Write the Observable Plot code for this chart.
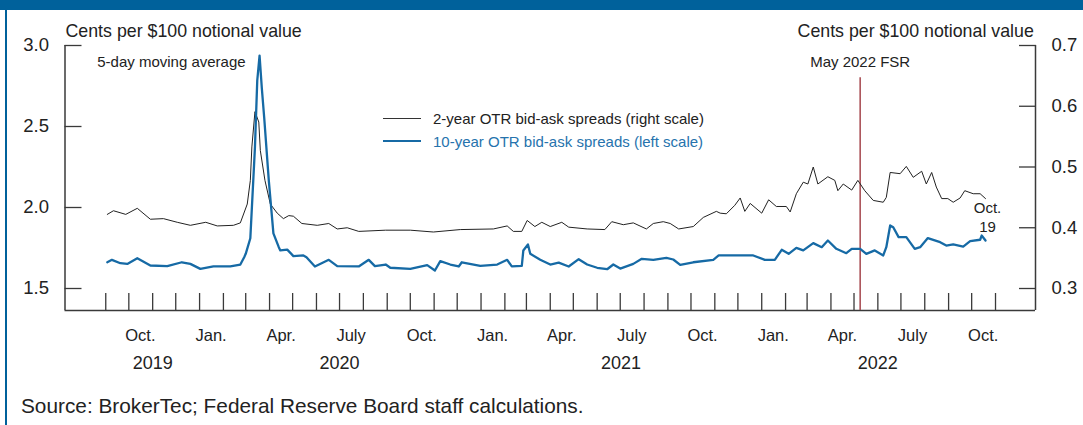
<!DOCTYPE html>
<html><head><meta charset="utf-8">
<script src="https://cdn.jsdelivr.net/npm/d3@7"></script>
<script src="https://cdn.jsdelivr.net/npm/@observablehq/plot@0.6"></script>
<style>
body{margin:0;background:#fff;}
#wrap{position:relative;width:1083px;height:425px;overflow:hidden;font-family:"Liberation Sans",Arial,sans-serif;color:#222;}
#chart{position:absolute;left:0;top:0;}
#band{position:absolute;left:0;top:0;width:1083px;height:10px;background:#00619b;}
#lborder{position:absolute;left:5px;top:0;width:2px;height:425px;background:#00619b;}
.leg{position:absolute;font-size:15px;line-height:15px;white-space:nowrap;}
.sw{position:absolute;height:0;width:38px;left:383px;}
#source{position:absolute;left:21px;top:396.4px;font-size:20.8px;line-height:20.8px;white-space:nowrap;color:#222;}
</style></head>
<body><div id="wrap">
<div id="chart"></div>
<div id="band"></div>
<div id="lborder"></div>
<div class="sw" style="top:117.5px;border-top:1px solid #333;"></div>
<div class="leg" style="left:433px;top:110.6px;color:#222;">2-year OTR bid-ask spreads (right scale)</div>
<div class="sw" style="top:140px;border-top:2.5px solid #166aa5;"></div>
<div class="leg" style="left:433px;top:134px;color:#2673ad;">10-year OTR bid-ask spreads (left scale)</div>
<div id="source">Source: BrokerTec; Federal Reserve Board staff calculations.</div>
</div>
<script>
// ---- data ----
const dates2y = ["2019-09-03","2019-09-11","2019-09-27","2019-10-12","2019-10-29","2019-11-15","2019-12-03","2019-12-20","2020-01-09","2020-01-24","2020-02-14","2020-02-23","2020-03-03","2020-03-07","2020-03-09","2020-03-13","2020-03-18","2020-03-20","2020-03-26","2020-04-02","2020-04-11","2020-04-19","2020-04-26","2020-05-02","2020-05-13","2020-06-02","2020-06-17","2020-06-28","2020-07-11","2020-07-26","2020-08-30","2020-10-01","2020-10-31","2020-12-05","2021-01-17","2021-02-04","2021-02-12","2021-02-23","2021-03-02","2021-03-12","2021-03-21","2021-04-01","2021-04-16","2021-04-25","2021-05-19","2021-06-11","2021-06-20","2021-07-05","2021-07-18","2021-08-04","2021-08-13","2021-08-26","2021-09-04","2021-09-15","2021-10-04","2021-10-17","2021-11-03","2021-11-08","2021-11-16","2021-11-27","2021-12-04","2021-12-10","2021-12-17","2022-01-01","2022-01-10","2022-01-20","2022-02-02","2022-02-07","2022-02-15","2022-02-24","2022-03-02","2022-03-09","2022-03-15","2022-03-28","2022-04-06","2022-04-10","2022-04-17","2022-04-28","2022-05-06","2022-05-15","2022-05-26","2022-06-08","2022-06-12","2022-06-17","2022-06-30","2022-07-08","2022-07-17","2022-07-28","2022-08-03","2022-08-10","2022-08-16","2022-08-23","2022-08-31","2022-09-07","2022-09-16","2022-09-22","2022-10-03","2022-10-12","2022-10-19"];
const values2y = [0.422,0.428,0.422,0.432,0.414,0.415,0.409,0.404,0.409,0.403,0.404,0.408,0.439,0.478,0.533,0.591,0.574,0.527,0.478,0.439,0.424,0.415,0.420,0.419,0.407,0.404,0.407,0.398,0.400,0.394,0.396,0.396,0.393,0.397,0.398,0.403,0.394,0.394,0.412,0.402,0.409,0.402,0.409,0.401,0.398,0.397,0.410,0.405,0.408,0.398,0.407,0.410,0.407,0.398,0.402,0.417,0.427,0.424,0.423,0.437,0.449,0.427,0.440,0.424,0.446,0.435,0.435,0.426,0.456,0.475,0.472,0.500,0.472,0.484,0.478,0.461,0.472,0.462,0.478,0.461,0.445,0.442,0.450,0.491,0.489,0.501,0.483,0.493,0.472,0.491,0.467,0.448,0.448,0.442,0.449,0.461,0.456,0.456,0.448];

const dates10y = ["2019-09-03","2019-09-09","2019-09-20","2019-09-29","2019-10-12","2019-10-29","2019-11-20","2019-12-09","2019-12-20","2020-01-02","2020-01-19","2020-02-10","2020-02-23","2020-02-28","2020-03-01","2020-03-07","2020-03-13","2020-03-16","2020-03-19","2020-03-22","2020-03-25","2020-03-31","2020-04-06","2020-04-13","2020-04-15","2020-04-24","2020-05-02","2020-05-15","2020-05-19","2020-05-30","2020-06-17","2020-06-28","2020-07-26","2020-08-08","2020-08-16","2020-08-30","2020-09-05","2020-10-01","2020-10-23","2020-11-02","2020-11-09","2020-11-22","2020-12-03","2020-12-07","2020-12-31","2021-01-22","2021-02-04","2021-02-10","2021-02-23","2021-02-25","2021-03-03","2021-03-06","2021-03-19","2021-04-01","2021-04-12","2021-04-25","2021-05-08","2021-05-19","2021-06-01","2021-06-14","2021-06-22","2021-07-01","2021-07-18","2021-07-29","2021-08-13","2021-08-30","2021-09-08","2021-09-17","2021-10-04","2021-10-30","2021-11-06","2021-12-04","2021-12-21","2022-01-05","2022-01-18","2022-01-27","2022-02-05","2022-02-15","2022-02-24","2022-03-09","2022-03-20","2022-03-28","2022-04-08","2022-04-21","2022-04-28","2022-05-09","2022-05-17","2022-05-28","2022-06-08","2022-06-12","2022-06-17","2022-06-21","2022-06-28","2022-07-08","2022-07-19","2022-07-26","2022-08-05","2022-08-21","2022-08-29","2022-09-07","2022-09-20","2022-09-29","2022-10-12","2022-10-14","2022-10-19"];
const values10y = [1.662,1.677,1.656,1.652,1.687,1.642,1.638,1.662,1.652,1.621,1.636,1.636,1.648,1.693,1.714,1.81,2.372,2.784,2.938,2.733,2.557,2.167,1.84,1.755,1.735,1.74,1.70,1.704,1.693,1.636,1.677,1.638,1.636,1.677,1.638,1.648,1.628,1.621,1.644,1.611,1.669,1.648,1.636,1.662,1.640,1.648,1.677,1.636,1.640,1.735,1.772,1.714,1.677,1.648,1.660,1.636,1.681,1.648,1.628,1.619,1.648,1.623,1.652,1.683,1.677,1.689,1.679,1.646,1.662,1.677,1.704,1.704,1.704,1.677,1.677,1.739,1.714,1.751,1.735,1.780,1.755,1.796,1.745,1.718,1.745,1.745,1.714,1.735,1.704,1.755,1.889,1.878,1.817,1.817,1.745,1.755,1.811,1.786,1.765,1.772,1.759,1.792,1.801,1.827,1.796];

const leftTicks = [1.5, 2.0, 2.5, 3.0];
const rightTicks = [0.3, 0.4, 0.5, 0.6, 0.7];
const monthLabelDates = ["2019-10-16","2020-01-16","2020-04-16","2020-07-16","2020-10-16","2021-01-16","2021-04-16","2021-07-16","2021-10-16","2022-01-16","2022-04-16","2022-07-16","2022-10-16"];
const monthLabels = ["Oct.","Jan.","Apr.","July","Oct.","Jan.","Apr.","July","Oct.","Jan.","Apr.","July","Oct."];
const yearLabelDates = ["2019-11-01","2020-07-01","2021-07-02","2022-06-01"];
const yearLabels = ["2019","2020","2021","2022"];
const fsrDate = "2022-05-09";
const xDomain = ["2019-07-10","2022-12-23"];
const leftDomain = [1.3642, 3.0];

// ---- helpers ----
const toLeft = r => 1.5 + (r - 0.3) * 3.75;     // right scale -> left scale
const toRight = l => 0.3 + (l - 1.5) / 3.75;
const D = s => new Date(s);
const s2 = dates2y.map((d, i) => ({date: D(d), value: values2y[i]}));
const s10 = dates10y.map((d, i) => ({date: D(d), value: values10y[i]}));
const months = monthLabelDates.map((d, i) => ({date: D(d), label: monthLabels[i]}));
const years = yearLabelDates.map((d, i) => ({date: D(d), label: yearLabels[i]}));
const monthTicks = d3.utcMonth.range(D("2019-09-01"), D("2022-11-02"));

const axisColor = "#3a3a3a";
const blue = "#166aa5";
const fmt = d3.format(".1f");

const chart = Plot.plot({
  width: 1083, height: 385,
  marginLeft: 64.5, marginRight: 48, marginTop: 45, marginBottom: 75,
  style: {fontFamily: '"Liberation Sans", Arial, sans-serif', fontSize: "18px", color: "#222", background: "transparent", overflow: "visible"},
  x: {type: "utc", domain: xDomain.map(D), axis: null},
  y: {domain: leftDomain, axis: null},
  marks: [
    // frame
    Plot.ruleY([leftDomain[0]], {stroke: axisColor, strokeWidth: 1.5}),
    Plot.ruleX(xDomain.map(D), {stroke: axisColor, strokeWidth: 1.5}),
    // ticks (inward)
    Plot.axisY(leftTicks, {anchor: "left", tickSize: 17, dx: 17, fill: "none", label: null, stroke: axisColor, strokeWidth: 1.3}),
    Plot.axisY(rightTicks.map(toLeft), {anchor: "right", tickSize: 17, dx: -17, fill: "none", label: null, stroke: axisColor, strokeWidth: 1.3}),
    Plot.axisX(monthTicks, {anchor: "bottom", tickSize: 17, dy: -17, fill: "none", label: null, stroke: axisColor, strokeWidth: 1.3}),
    // tick labels
    Plot.axisY(leftTicks, {anchor: "left", tickSize: 0, tickPadding: 16, tickFormat: fmt, fontSize: 18.5, label: null, fill: "#222"}),
    Plot.axisY(rightTicks.map(toLeft), {anchor: "right", tickSize: 0, tickPadding: 16, tickFormat: d => fmt(toRight(d)), fontSize: 18.5, label: null, fill: "#222"}),
    Plot.text(months, {x: "date", text: "label", frameAnchor: "bottom", lineAnchor: "bottom", dy: 30, fontSize: 16.5, fill: "#222"}),
    Plot.text(years, {x: "date", text: "label", frameAnchor: "bottom", lineAnchor: "bottom", dy: 58, fontSize: 18, fill: "#222"}),
    // axis titles
    Plot.text(["Cents per $100 notional value"], {text: d => d, frameAnchor: "top-left", textAnchor: "start", lineAnchor: "bottom", dx: 0.5, dy: -9, fontSize: 17.8, fill: "#222"}),
    Plot.text(["Cents per $100 notional value"], {text: d => d, frameAnchor: "top-right", textAnchor: "end", lineAnchor: "bottom", dx: -1.7, dy: -9, fontSize: 17.8, fill: "#222"}),
    Plot.text(["5-day moving average"], {text: d => d, frameAnchor: "top-left", textAnchor: "start", lineAnchor: "bottom", dx: 32.2, dy: 21.7, fontSize: 15, fill: "#222"}),
    // FSR line
    Plot.ruleX([D(fsrDate)], {stroke: "#a5474d", strokeWidth: 1.5, insetTop: 32.3}),
    Plot.text([D(fsrDate)], {x: d => d, text: () => "May 2022 FSR", frameAnchor: "top", lineAnchor: "bottom", dy: 21.7, fontSize: 15, fill: "#222"}),
    // series
    Plot.line(s2, {x: "date", y: d => toLeft(d.value), stroke: "#222", strokeWidth: 1}),
    Plot.line(s10, {x: "date", y: "value", stroke: blue, strokeWidth: 2.3}),
    Plot.text([s2[s2.length - 1]], {x: "date", y: d => toLeft(d.value), text: () => "Oct.\n19", dx: 2, dy: 33.4, lineAnchor: "bottom", lineHeight: 1.27, fontSize: 15, fill: "#222"})
  ]
});
document.getElementById("chart").appendChild(chart);
</script>
</body></html>
